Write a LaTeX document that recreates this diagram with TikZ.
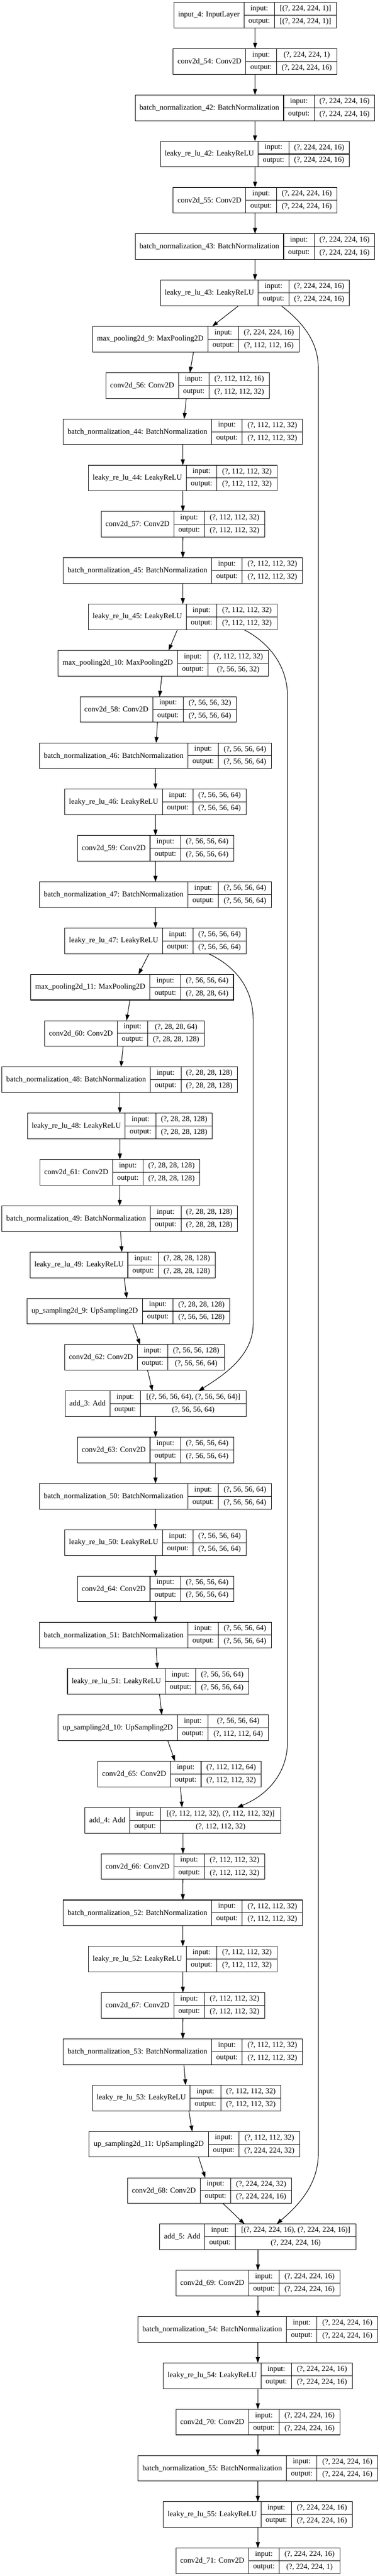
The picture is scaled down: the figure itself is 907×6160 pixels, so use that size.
\documentclass[tikz,border=0pt]{standalone}
\usepackage{fontspec}
\setmainfont{Liberation Serif}
\usetikzlibrary{arrows.meta}

% one Keras layer: name, left x, level, label, name width, shape width, input, output
\newcommand{\mklayer}[8]{%
  \pgfmathsetmacro{\laytop}{5.7+110.68*#3}%
  \pgfmathsetmacro{\laywd}{#5+73.3+#6}%
  \pgfmathsetmacro{\layname}{#5/2}%
  \pgfmathsetmacro{\laysep}{#5+73.3}%
  \pgfmathsetmacro{\layio}{#5+36.65}%
  \pgfmathsetmacro{\layshape}{#5+73.3+#6/2}%
  \node[laybox, minimum width=\laywd pt, anchor=north west] (#1) at (#2,\laytop) {};
  \node (#1-lbl) at ([xshift=\layname pt]#1.west) {#4};
  \draw[boxline] ([xshift=#5pt]#1.north west) -- ([xshift=#5pt]#1.south west);
  \draw[boxline] ([xshift=\laysep pt]#1.north west) -- ([xshift=\laysep pt]#1.south west);
  \draw[boxline] ([xshift=#5pt]#1.west) -- (#1.east);
  \node (#1-ink) at ([xshift=\layio pt, yshift=15.3pt]#1.west) {input:};
  \node (#1-outk) at ([xshift=\layio pt, yshift=-15.3pt]#1.west) {output:};
  \node (#1-inv) at ([xshift=\layshape pt, yshift=15.3pt]#1.west) {#7};
  \node (#1-outv) at ([xshift=\layshape pt, yshift=-15.3pt]#1.west) {#8};
}

\begin{document}
\begin{tikzpicture}[x=1pt, y=-1pt, font=\fontsize{18.1}{21}\selectfont,
  laybox/.style={draw, rectangle, inner sep=0pt, outer sep=0pt, minimum height=61.3pt, line width=1.3pt},
  boxline/.style={line width=1.3pt},
  link/.style={-{Triangle[length=14pt,width=9.5pt]}, line width=1.3pt}]
\fill[white] (0,0) rectangle (907,6160);

% Encoder
\mklayer{lay1}{415.5}{0}{input\_4: InputLayer}{167.3}{147.5}{[(?, 224, 224, 1)]}{[(?, 224, 224, 1)]}
\mklayer{lay2}{413.8}{1}{conv2d\_54: Conv2D}{173.5}{144.7}{(?, 224, 224, 1)}{(?, 224, 224, 16)}
\mklayer{lay3}{323}{2}{batch\_normalization\_42: BatchNormalization}{354.6}{144.7}{(?, 224, 224, 16)}{(?, 224, 224, 16)}
\mklayer{lay4}{383.7}{3}{leaky\_re\_lu\_42: LeakyReLU}{233.2}{144.7}{(?, 224, 224, 16)}{(?, 224, 224, 16)}
\mklayer{lay5}{413.8}{4}{conv2d\_55: Conv2D}{173.5}{144.7}{(?, 224, 224, 16)}{(?, 224, 224, 16)}
\mklayer{lay6}{323}{5}{batch\_normalization\_43: BatchNormalization}{354.6}{144.7}{(?, 224, 224, 16)}{(?, 224, 224, 16)}
\mklayer{lay7}{383.7}{6}{leaky\_re\_lu\_43: LeakyReLU}{233.2}{144.7}{(?, 224, 224, 16)}{(?, 224, 224, 16)}
\mklayer{lay8}{221}{7}{max\_pooling2d\_9: MaxPooling2D}{276}{144.3}{(?, 224, 224, 16)}{(?, 112, 112, 16)}
\mklayer{lay9}{252.9}{8}{conv2d\_56: Conv2D}{173.5}{143.8}{(?, 112, 112, 16)}{(?, 112, 112, 32)}
\mklayer{lay10}{151}{9}{batch\_normalization\_44: BatchNormalization}{354.6}{143.8}{(?, 112, 112, 32)}{(?, 112, 112, 32)}
\mklayer{lay11}{211.7}{10}{leaky\_re\_lu\_44: LeakyReLU}{233.2}{143.8}{(?, 112, 112, 32)}{(?, 112, 112, 32)}
\mklayer{lay12}{241.8}{11}{conv2d\_57: Conv2D}{173.5}{143.8}{(?, 112, 112, 32)}{(?, 112, 112, 32)}
\mklayer{lay13}{151}{12}{batch\_normalization\_45: BatchNormalization}{354.6}{143.8}{(?, 112, 112, 32)}{(?, 112, 112, 32)}
\mklayer{lay14}{211.7}{13}{leaky\_re\_lu\_45: LeakyReLU}{233.2}{143.8}{(?, 112, 112, 32)}{(?, 112, 112, 32)}
\mklayer{lay15}{138.8}{14}{max\_pooling2d\_10: MaxPooling2D}{285.2}{143.8}{(?, 112, 112, 32)}{(?, 56, 56, 32)}
\mklayer{lay16}{191.4}{15}{conv2d\_58: Conv2D}{173.5}{126.4}{(?, 56, 56, 32)}{(?, 56, 56, 64)}
\mklayer{lay17}{94.3}{16}{batch\_normalization\_46: BatchNormalization}{354.6}{126.4}{(?, 56, 56, 64)}{(?, 56, 56, 64)}
\mklayer{lay18}{155}{17}{leaky\_re\_lu\_46: LeakyReLU}{233.2}{126.4}{(?, 56, 56, 64)}{(?, 56, 56, 64)}
\mklayer{lay19}{185}{18}{conv2d\_59: Conv2D}{173.5}{126.4}{(?, 56, 56, 64)}{(?, 56, 56, 64)}
\mklayer{lay20}{94.3}{19}{batch\_normalization\_47: BatchNormalization}{354.6}{126.4}{(?, 56, 56, 64)}{(?, 56, 56, 64)}
\mklayer{lay21}{155}{20}{leaky\_re\_lu\_47: LeakyReLU}{233.2}{126.4}{(?, 56, 56, 64)}{(?, 56, 56, 64)}
\mklayer{lay22}{72.9}{21}{max\_pooling2d\_11: MaxPooling2D}{285.5}{126.4}{(?, 56, 56, 64)}{(?, 28, 28, 64)}

% Bottleneck
\mklayer{lay23}{106.4}{22}{conv2d\_60: Conv2D}{173.5}{135}{(?, 28, 28, 64)}{(?, 28, 28, 128)}
\mklayer{lay24}{4.6}{23}{batch\_normalization\_48: BatchNormalization}{354.6}{135}{(?, 28, 28, 128)}{(?, 28, 28, 128)}
\mklayer{lay25}{65.9}{24}{leaky\_re\_lu\_48: LeakyReLU}{233.2}{135}{(?, 28, 28, 128)}{(?, 28, 28, 128)}
\mklayer{lay26}{95.4}{25}{conv2d\_61: Conv2D}{173.5}{135}{(?, 28, 28, 128)}{(?, 28, 28, 128)}
\mklayer{lay27}{4.6}{26}{batch\_normalization\_49: BatchNormalization}{354.6}{135}{(?, 28, 28, 128)}{(?, 28, 28, 128)}
\mklayer{lay28}{72.3}{27}{leaky\_re\_lu\_49: LeakyReLU}{233.2}{135}{(?, 28, 28, 128)}{(?, 28, 28, 128)}

% Decoder
\mklayer{lay29}{64.2}{28}{up\_sampling2d\_9: UpSampling2D}{276.4}{135}{(?, 28, 28, 128)}{(?, 56, 56, 128)}
\mklayer{lay30}{154.4}{29}{conv2d\_62: Conv2D}{173.5}{135}{(?, 56, 56, 128)}{(?, 56, 56, 64)}
\mklayer{lay31}{155.6}{30}{add\_3: Add}{107}{252}{[(?, 56, 56, 64), (?, 56, 56, 64)]}{(?, 56, 56, 64)}
\mklayer{lay32}{185}{31}{conv2d\_63: Conv2D}{173.5}{126.4}{(?, 56, 56, 64)}{(?, 56, 56, 64)}
\mklayer{lay33}{94.3}{32}{batch\_normalization\_50: BatchNormalization}{354.6}{126.4}{(?, 56, 56, 64)}{(?, 56, 56, 64)}
\mklayer{lay34}{155}{33}{leaky\_re\_lu\_50: LeakyReLU}{233.2}{126.4}{(?, 56, 56, 64)}{(?, 56, 56, 64)}
\mklayer{lay35}{185}{34}{conv2d\_64: Conv2D}{173.5}{126.4}{(?, 56, 56, 64)}{(?, 56, 56, 64)}
\mklayer{lay36}{94.3}{35}{batch\_normalization\_51: BatchNormalization}{354.6}{126.4}{(?, 56, 56, 64)}{(?, 56, 56, 64)}
\mklayer{lay37}{161.4}{36}{leaky\_re\_lu\_51: LeakyReLU}{233.2}{126.4}{(?, 56, 56, 64)}{(?, 56, 56, 64)}
\mklayer{lay38}{138.8}{37}{up\_sampling2d\_10: UpSampling2D}{285.2}{143.8}{(?, 56, 56, 64)}{(?, 112, 112, 64)}
\mklayer{lay39}{233.7}{38}{conv2d\_65: Conv2D}{173.5}{143.8}{(?, 112, 112, 64)}{(?, 112, 112, 32)}
\mklayer{lay40}{203}{39}{add\_4: Add}{107}{288}{[(?, 112, 112, 32), (?, 112, 112, 32)]}{(?, 112, 112, 32)}
\mklayer{lay41}{241.8}{40}{conv2d\_66: Conv2D}{173.5}{143.8}{(?, 112, 112, 32)}{(?, 112, 112, 32)}
\mklayer{lay42}{151}{41}{batch\_normalization\_52: BatchNormalization}{354.6}{143.8}{(?, 112, 112, 32)}{(?, 112, 112, 32)}
\mklayer{lay43}{211.7}{42}{leaky\_re\_lu\_52: LeakyReLU}{233.2}{143.8}{(?, 112, 112, 32)}{(?, 112, 112, 32)}
\mklayer{lay44}{241.8}{43}{conv2d\_67: Conv2D}{173.5}{143.8}{(?, 112, 112, 32)}{(?, 112, 112, 32)}
\mklayer{lay45}{151}{44}{batch\_normalization\_53: BatchNormalization}{354.6}{143.8}{(?, 112, 112, 32)}{(?, 112, 112, 32)}
\mklayer{lay46}{221}{45}{leaky\_re\_lu\_53: LeakyReLU}{233.2}{143.8}{(?, 112, 112, 32)}{(?, 112, 112, 32)}
\mklayer{lay47}{212.8}{46}{up\_sampling2d\_11: UpSampling2D}{285.2}{144.7}{(?, 112, 112, 32)}{(?, 224, 224, 32)}
\mklayer{lay48}{304.8}{47}{conv2d\_68: Conv2D}{173.5}{144.7}{(?, 224, 224, 32)}{(?, 224, 224, 16)}
\mklayer{lay49}{381.7}{48}{add\_5: Add}{107.3}{288.7}{[(?, 224, 224, 16), (?, 224, 224, 16)]}{(?, 224, 224, 16)}
\mklayer{lay50}{420.5}{49}{conv2d\_69: Conv2D}{173.5}{144.7}{(?, 224, 224, 16)}{(?, 224, 224, 16)}
\mklayer{lay51}{329.7}{50}{batch\_normalization\_54: BatchNormalization}{354.6}{144.7}{(?, 224, 224, 16)}{(?, 224, 224, 16)}
\mklayer{lay52}{390.4}{51}{leaky\_re\_lu\_54: LeakyReLU}{233.2}{144.7}{(?, 224, 224, 16)}{(?, 224, 224, 16)}
\mklayer{lay53}{420.5}{52}{conv2d\_70: Conv2D}{173.5}{144.7}{(?, 224, 224, 16)}{(?, 224, 224, 16)}
\mklayer{lay54}{329.7}{53}{batch\_normalization\_55: BatchNormalization}{354.6}{144.7}{(?, 224, 224, 16)}{(?, 224, 224, 16)}
\mklayer{lay55}{390.4}{54}{leaky\_re\_lu\_55: LeakyReLU}{233.2}{144.7}{(?, 224, 224, 16)}{(?, 224, 224, 16)}
\mklayer{lay56}{420.5}{55}{conv2d\_71: Conv2D}{173.5}{144.7}{(?, 224, 224, 16)}{(?, 224, 224, 1)}

% Arrows
\draw[link] (lay1) -- (lay2);
\draw[link] (lay2) -- (lay3);
\draw[link] (lay3) -- (lay4);
\draw[link] (lay4) -- (lay5);
\draw[link] (lay5) -- (lay6);
\draw[link] (lay6) -- (lay7);
\draw[link] (lay7) -- (lay8);
\draw[link] (lay8) -- (lay9);
\draw[link] (lay9) -- (lay10);
\draw[link] (lay10) -- (lay11);
\draw[link] (lay11) -- (lay12);
\draw[link] (lay12) -- (lay13);
\draw[link] (lay13) -- (lay14);
\draw[link] (lay14) -- (lay15);
\draw[link] (lay15) -- (lay16);
\draw[link] (lay16) -- (lay17);
\draw[link] (lay17) -- (lay18);
\draw[link] (lay18) -- (lay19);
\draw[link] (lay19) -- (lay20);
\draw[link] (lay20) -- (lay21);
\draw[link] (lay21) -- (lay22);
\draw[link] (lay22) -- (lay23);
\draw[link] (lay23) -- (lay24);
\draw[link] (lay24) -- (lay25);
\draw[link] (lay25) -- (lay26);
\draw[link] (lay26) -- (lay27);
\draw[link] (lay27) -- (lay28);
\draw[link] (lay28) -- (lay29);
\draw[link] (lay29) -- (lay30);
\draw[link] (lay30) -- (lay31);
\draw[link] (lay31) -- (lay32);
\draw[link] (lay32) -- (lay33);
\draw[link] (lay33) -- (lay34);
\draw[link] (lay34) -- (lay35);
\draw[link] (lay35) -- (lay36);
\draw[link] (lay36) -- (lay37);
\draw[link] (lay37) -- (lay38);
\draw[link] (lay38) -- (lay39);
\draw[link] (lay39) -- (lay40);
\draw[link] (lay40) -- (lay41);
\draw[link] (lay41) -- (lay42);
\draw[link] (lay42) -- (lay43);
\draw[link] (lay43) -- (lay44);
\draw[link] (lay44) -- (lay45);
\draw[link] (lay45) -- (lay46);
\draw[link] (lay46) -- (lay47);
\draw[link] (lay47) -- (lay48);
\draw[link] (lay48) -- (lay49);
\draw[link] (lay49) -- (lay50);
\draw[link] (lay50) -- (lay51);
\draw[link] (lay51) -- (lay52);
\draw[link] (lay52) -- (lay53);
\draw[link] (lay53) -- (lay54);
\draw[link] (lay54) -- (lay55);
\draw[link] (lay55) -- (lay56);

% Skip connections
\draw[link] ([xshift=62.7pt]lay7.south) .. controls (715,765) and (760.5,810) .. (760.5,880)
  -- (760.5,5150) .. controls (760.5,5230) and (705,5280) .. ([xshift=44.75pt]lay49.north);
\draw[link] ([xshift=146.15pt]lay14.south) .. controls (640,1535) and (687,1590) .. (687,1665)
  -- (687,4165) .. controls (687,4235) and (645,4290) .. ([xshift=129.65pt]lay40.north);
\draw[link] ([xshift=127.05pt]lay21.south) .. controls (560,2310) and (605,2360) .. (605,2440)
  -- (605,3165) .. controls (605,3240) and (540,3285) .. ([xshift=102.55pt]lay31.north);
\end{tikzpicture}
\end{document}
